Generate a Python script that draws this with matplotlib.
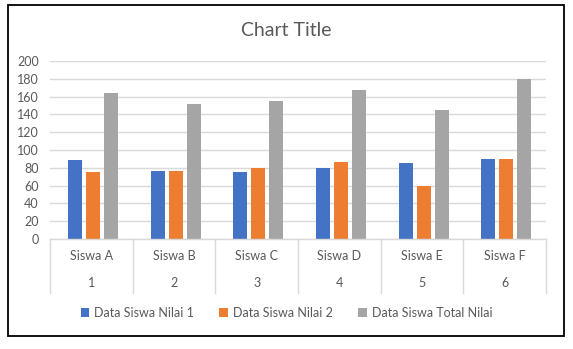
import numpy as np
import matplotlib.pyplot as plt
from matplotlib.patches import Rectangle, Patch

plt.rcParams['font.family'] = ['Lato', 'DejaVu Sans']

siswa = ['Siswa A', 'Siswa B', 'Siswa C', 'Siswa D', 'Siswa E', 'Siswa F']
nomor = ['1', '2', '3', '4', '5', '6']
nilai1 = [89, 76, 75, 80, 85, 90]
nilai2 = [75, 76, 80, 87, 60, 90]
total = [164, 152, 155, 167, 145, 180]
series_names = ['Data Siswa Nilai 1', 'Data Siswa Nilai 2', 'Data Siswa Total Nilai']
colors = ['#4472C4', '#ED7D31', '#A5A5A5']
txt = '#595959'
grid = '#D9D9D9'

W, H = 573, 349
fig = plt.figure(figsize=(W / 100, H / 100), dpi=100)
ax = fig.add_axes([50 / W, (H - 239) / H, (546 - 50) / W, (239 - 61) / H])

x = np.arange(len(siswa))
w = 0.17
step = 0.218
for k, vals in enumerate([nilai1, nilai2, total]):
    ax.bar(x + (k - 1) * step + 0.02, vals, width=w, color=colors[k], zorder=3)

ax.set_xlim(-0.5, len(siswa) - 0.5)
ax.set_ylim(0, 200)
ax.set_yticks(range(0, 201, 20))
ax.yaxis.grid(True, color=grid, linewidth=1, zorder=0)
for s in ax.spines.values():
    s.set_visible(False)
ax.tick_params(axis='y', length=0, labelsize=9, labelcolor=txt, pad=8)
ax.set_xticks([])

# multi-level category axis
xt = ax.get_xaxis_transform()
ah = 239 - 61
for b in np.arange(-0.5, len(siswa), 1.0):
    ax.plot([b, b], [0, -54 / ah], color=grid, lw=1, transform=xt, clip_on=False)
ax.plot([-0.5, len(siswa) - 0.5], [0, 0], color=grid, lw=1, transform=xt, clip_on=False, zorder=4)
for i in range(len(siswa)):
    ax.text(i, -17 / ah, siswa[i], transform=xt, ha='center', va='center', fontsize=9, color=txt)
    ax.text(i, -44 / ah, nomor[i], transform=xt, ha='center', va='center', fontsize=9, color=txt)

fig.text(0.5, (H - 30) / H, 'Chart Title', ha='center', va='center', fontsize=14, color=txt)

handles = [Patch(facecolor=c) for c in colors]
fig.legend(handles, series_names, loc='center', bbox_to_anchor=(0.5, (H - 313) / H), ncol=3,
           frameon=False, fontsize=9, labelcolor=txt, handlelength=0.7, handleheight=0.7,
           handletextpad=0.4, columnspacing=2.0)

fig.patches.append(Rectangle((8 / W, (H - 336) / H), (564 - 8) / W, (336 - 5) / H,
                             transform=fig.transFigure, fill=False, edgecolor='black', lw=1.3))

fig.savefig('out.png', dpi=100)
